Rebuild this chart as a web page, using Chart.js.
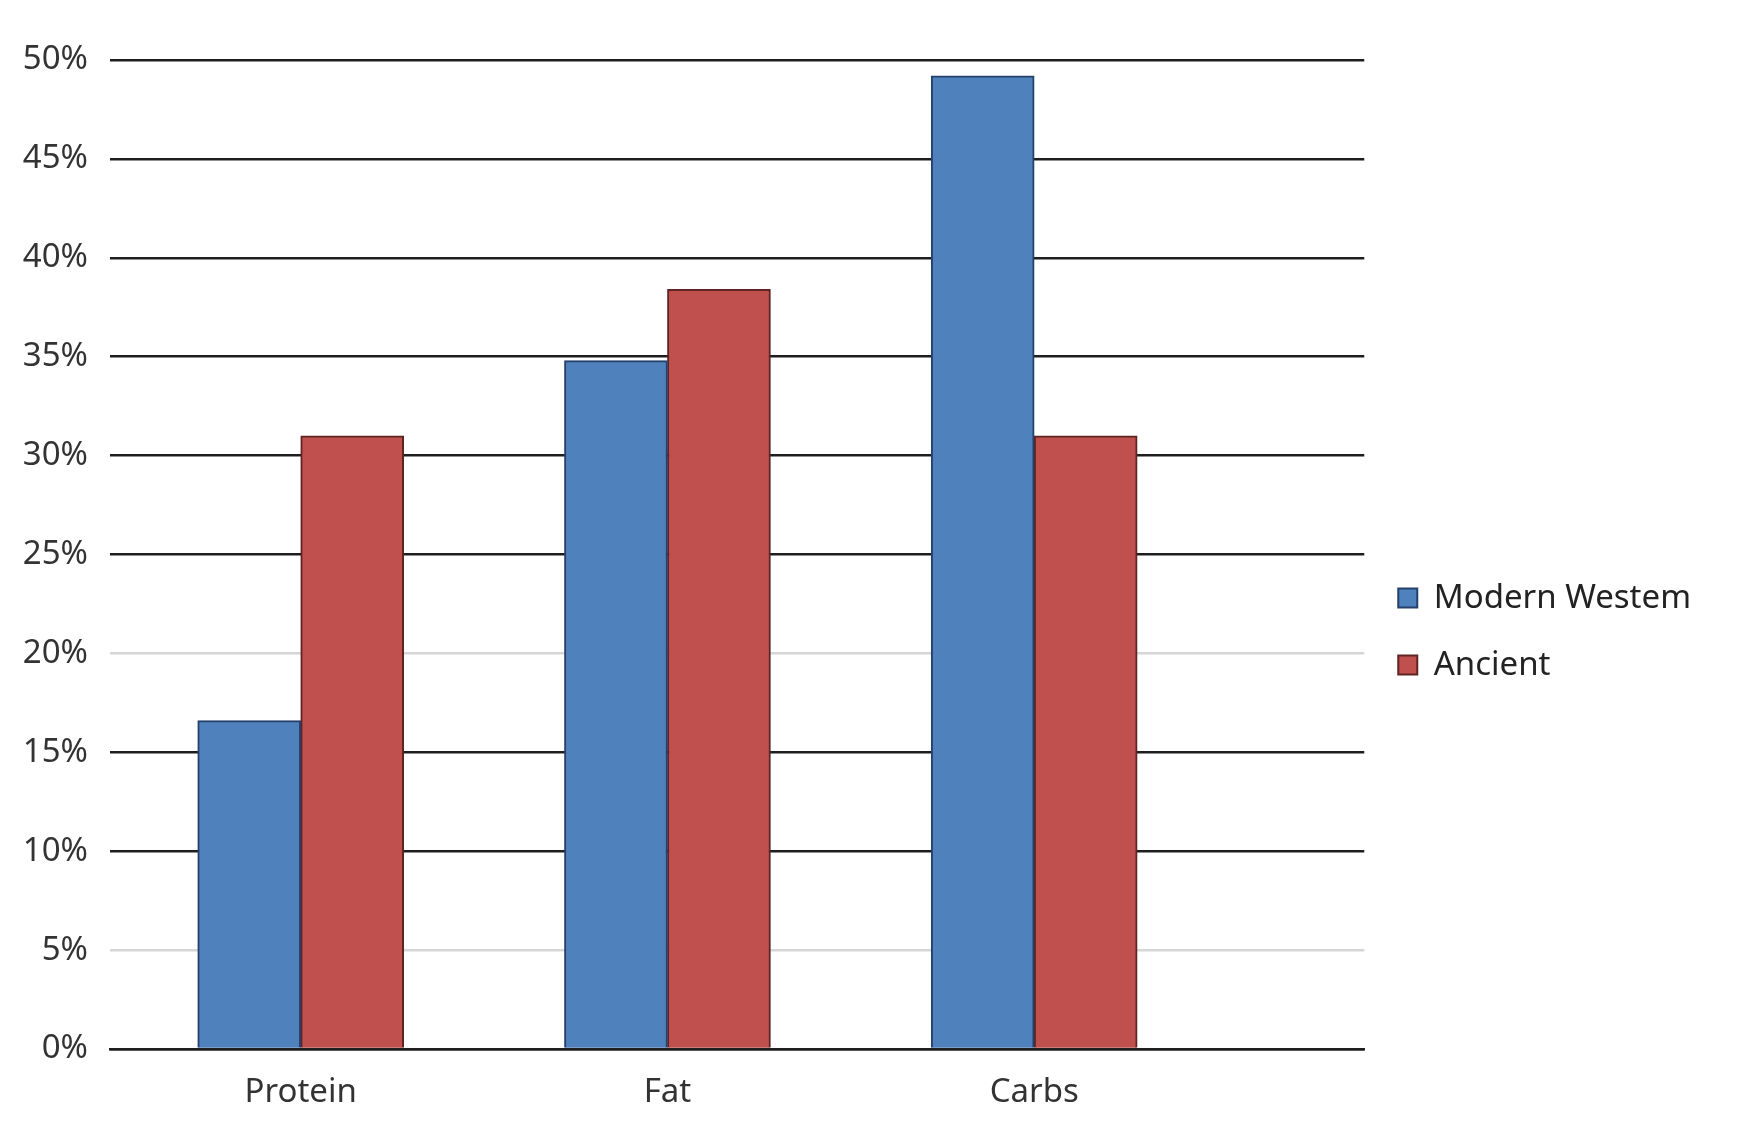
<!DOCTYPE html>
<html>
<head>
<meta charset="utf-8">
<script src="https://cdn.jsdelivr.net/npm/chart.js@4/dist/chart.umd.min.js"></script>
<style>
    html, body { margin: 0; padding: 0; background: #fff; }
    #wrap { width: 1764px; height: 1130px; position: relative; }
</style>
</head>
<body>
<div id="wrap"><canvas id="dietChart"></canvas></div>
<script>
// Dados (percentual da dieta)
const categories = ['Protein', 'Fat', 'Carbs'];
const seriesNames = ['Modern Westem', 'Ancient'];
const modernValues = [16.6, 34.8, 49.2];
const ancientValues = [31, 38.4, 31];
const yTicks = [0, 5, 10, 15, 20, 25, 30, 35, 40, 45, 50];
const lightTicks = [5, 20]; // linhas cinza claro no original

const colors = {
    blue: '#4f81bd',
    blueBorder: '#24406b',
    red: '#c0504d',
    redBorder: '#5e2322',
    grid: '#1e1e1e',
    gridLight: '#d6d6d6',
    text: '#333333'
};

const FONT = "'Noto Sans', 'DejaVu Sans', sans-serif";

// cada categoria ocupa uma unidade no eixo x (centro em i + 0.5)
function toPoints(values) {
    return values.map((v, i) => ({ x: i + 0.5, y: v }));
}

const ctx = document.getElementById('dietChart');

new Chart(ctx, {
    type: 'bar',
    data: {
        datasets: [
            {
                label: seriesNames[0],
                data: toPoints(modernValues),
                backgroundColor: colors.blue,
                borderColor: colors.blueBorder,
                borderWidth: 2,
                barThickness: 103
            },
            {
                label: seriesNames[1],
                data: toPoints(ancientValues),
                backgroundColor: colors.red,
                borderColor: colors.redBorder,
                borderWidth: 2,
                barThickness: 103
            }
        ]
    },
    options: {
        responsive: true,
        maintainAspectRatio: false,
        animation: false,
        layout: {
            padding: { top: 60, left: 0, right: 63, bottom: 0 }
        },
        scales: {
            x: {
                type: 'linear',
                offset: false,
                min: -0.02,
                max: 3.40,
                grid: { display: false },
                border: { display: true, color: colors.grid, width: 2.5 },
                ticks: {
                    stepSize: 0.5,
                    autoSkip: false,
                    maxRotation: 0,
                    padding: 16,
                    color: colors.text,
                    font: { family: FONT, size: 33 },
                    callback: (value) => {
                        const i = value - 0.5;
                        return Number.isInteger(i) ? categories[i] : '';
                    }
                },
                afterFit: (scale) => { scale.height = 81; }
            },
            y: {
                min: 0,
                max: 50,
                afterBuildTicks: (scale) => {
                    scale.ticks = yTicks.map(v => ({ value: v }));
                },
                border: { display: false },
                grid: {
                    drawTicks: false,
                    lineWidth: 2.5,
                    color: (c) => lightTicks.includes(c.tick.value) ? colors.gridLight : colors.grid
                },
                ticks: {
                    padding: 22,
                    color: colors.text,
                    font: { family: FONT, size: 33 },
                    callback: (v) => v + '%'
                },
                afterFit: (scale) => { scale.width = 110; }
            }
        },
        plugins: {
            tooltip: { enabled: false },
            legend: {
                position: 'right',
                align: 'center',
                title: { display: true, text: '', font: { size: 1 }, padding: { top: 0, bottom: 72 } },
                labels: {
                    boxWidth: 19,
                    boxHeight: 19,
                    padding: 34,
                    color: '#222222',
                    font: { family: FONT, size: 33 }
                }
            }
        }
    }
});
</script>
</body>
</html>
